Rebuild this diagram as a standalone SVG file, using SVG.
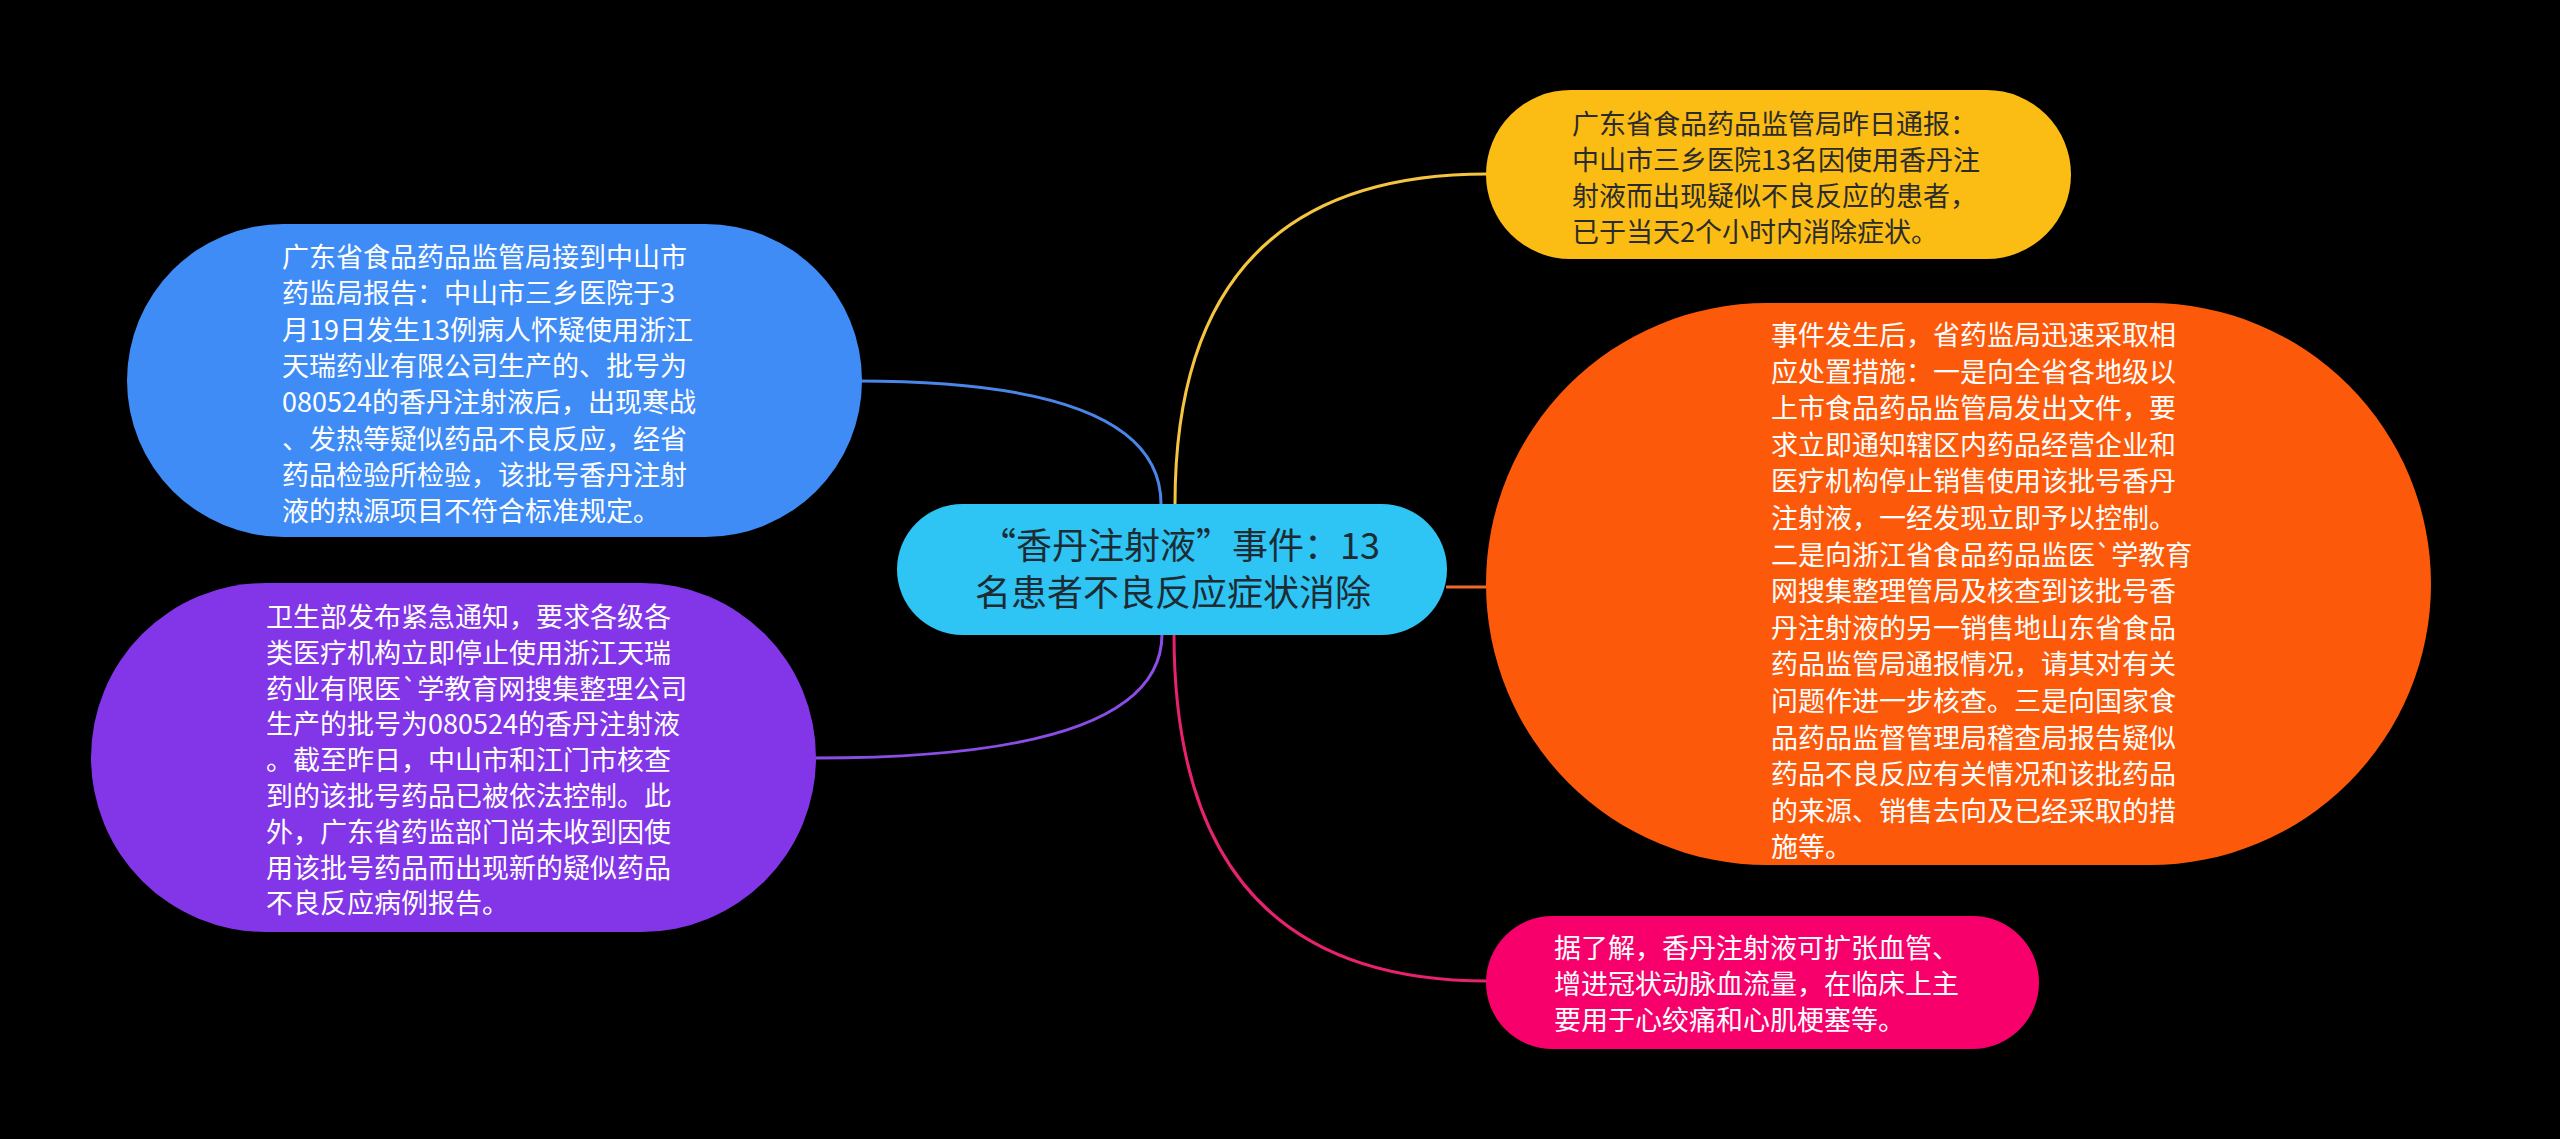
<svg xmlns="http://www.w3.org/2000/svg" width="2560" height="1139" viewBox="0 0 2560 1139">
<style>
.t{font-family:"Noto Sans CJK SC","Noto Sans",sans-serif;font-size:27px}
.w{fill:#ffffff}
.d{fill:#2b2b2b}
.c{fill:#1d2b33;font-size:36px}
.ln{fill:none;stroke-width:3}
</style>
<rect width="2560" height="1139" fill="#000000"/>
<g id="connectors">
<path class="ln" stroke="#f5c540" d="M1175,504 Q1175,174 1487,174"/>
<path class="ln" stroke="#4a86e8" d="M1161,504 Q1161,381 858,381"/>
<path class="ln" stroke="#8b4de6" d="M1162,634 Q1162,758 816,758"/>
<path class="ln" stroke="#f06828" d="M1446,587 L1487,587"/>
<path class="ln" stroke="#e8226e" d="M1174,634 Q1174,981 1487,981"/>
</g>
<g id="center">
<rect x="897" y="504" width="550" height="131" rx="65.5" fill="#2ec4f4"/>
<text class="t c" text-anchor="middle"><tspan x="1180" y="559">“香丹注射液”事件：13</tspan><tspan x="1173" y="606">名患者不良反应症状消除</tspan></text>
</g>
<g id="n-yellow">
<rect x="1486" y="90" width="585" height="169" rx="84.5" fill="#fbbd14"/>
<text class="t d"><tspan x="1572" y="134">广东省食品药品监管局昨日通报：</tspan><tspan x="1572" y="170">中山市三乡医院13名因使用香丹注</tspan><tspan x="1572" y="206">射液而出现疑似不良反应的患者，</tspan><tspan x="1572" y="242">已于当天2个小时内消除症状。</tspan></text>
</g>
<g id="n-blue">
<rect x="127" y="224" width="735" height="313" rx="156.5" fill="#3f8cf7"/>
<text class="t w"><tspan x="282" y="267">广东省食品药品监管局接到中山市</tspan><tspan x="282" y="303.3">药监局报告：中山市三乡医院于3</tspan><tspan x="282" y="339.6">月19日发生13例病人怀疑使用浙江</tspan><tspan x="282" y="375.9">天瑞药业有限公司生产的、批号为</tspan><tspan x="282" y="412.2">080524的香丹注射液后，出现寒战</tspan><tspan x="282" y="448.5">、发热等疑似药品不良反应，经省</tspan><tspan x="282" y="484.8">药品检验所检验，该批号香丹注射</tspan><tspan x="282" y="521.1">液的热源项目不符合标准规定。</tspan></text>
</g>
<g id="n-purple">
<rect x="91" y="583" width="725" height="349" rx="174.5" fill="#8236e8"/>
<text class="t w"><tspan x="266" y="627">卫生部发布紧急通知，要求各级各</tspan><tspan x="266" y="662.8">类医疗机构立即停止使用浙江天瑞</tspan><tspan x="266" y="698.6">药业有限医`学教育网搜集整理公司</tspan><tspan x="266" y="734.4">生产的批号为080524的香丹注射液</tspan><tspan x="266" y="770.2">。截至昨日，中山市和江门市核查</tspan><tspan x="266" y="806">到的该批号药品已被依法控制。此</tspan><tspan x="266" y="841.8">外，广东省药监部门尚未收到因使</tspan><tspan x="266" y="877.6">用该批号药品而出现新的疑似药品</tspan><tspan x="266" y="913.4">不良反应病例报告。</tspan></text>
</g>
<g id="n-orange">
<rect x="1486" y="303" width="945" height="562" rx="281" fill="#fc5a0a"/>
<text class="t w"><tspan x="1771" y="345">事件发生后，省药监局迅速采取相</tspan><tspan x="1771" y="381.6">应处置措施：一是向全省各地级以</tspan><tspan x="1771" y="418.2">上市食品药品监管局发出文件，要</tspan><tspan x="1771" y="454.8">求立即通知辖区内药品经营企业和</tspan><tspan x="1771" y="491.4">医疗机构停止销售使用该批号香丹</tspan><tspan x="1771" y="528">注射液，一经发现立即予以控制。</tspan><tspan x="1771" y="564.6">二是向浙江省食品药品监医`学教育</tspan><tspan x="1771" y="601.2">网搜集整理管局及核查到该批号香</tspan><tspan x="1771" y="637.8">丹注射液的另一销售地山东省食品</tspan><tspan x="1771" y="674.4">药品监管局通报情况，请其对有关</tspan><tspan x="1771" y="711">问题作进一步核查。三是向国家食</tspan><tspan x="1771" y="747.6">品药品监督管理局稽查局报告疑似</tspan><tspan x="1771" y="784.2">药品不良反应有关情况和该批药品</tspan><tspan x="1771" y="820.8">的来源、销售去向及已经采取的措</tspan><tspan x="1771" y="857.4">施等。</tspan></text>
</g>
<g id="n-pink">
<rect x="1486" y="916" width="553" height="133" rx="66.5" fill="#f7006b"/>
<text class="t w"><tspan x="1554" y="958">据了解，香丹注射液可扩张血管、</tspan><tspan x="1554" y="994">增进冠状动脉血流量，在临床上主</tspan><tspan x="1554" y="1030">要用于心绞痛和心肌梗塞等。</tspan></text>
</g>
</svg>
